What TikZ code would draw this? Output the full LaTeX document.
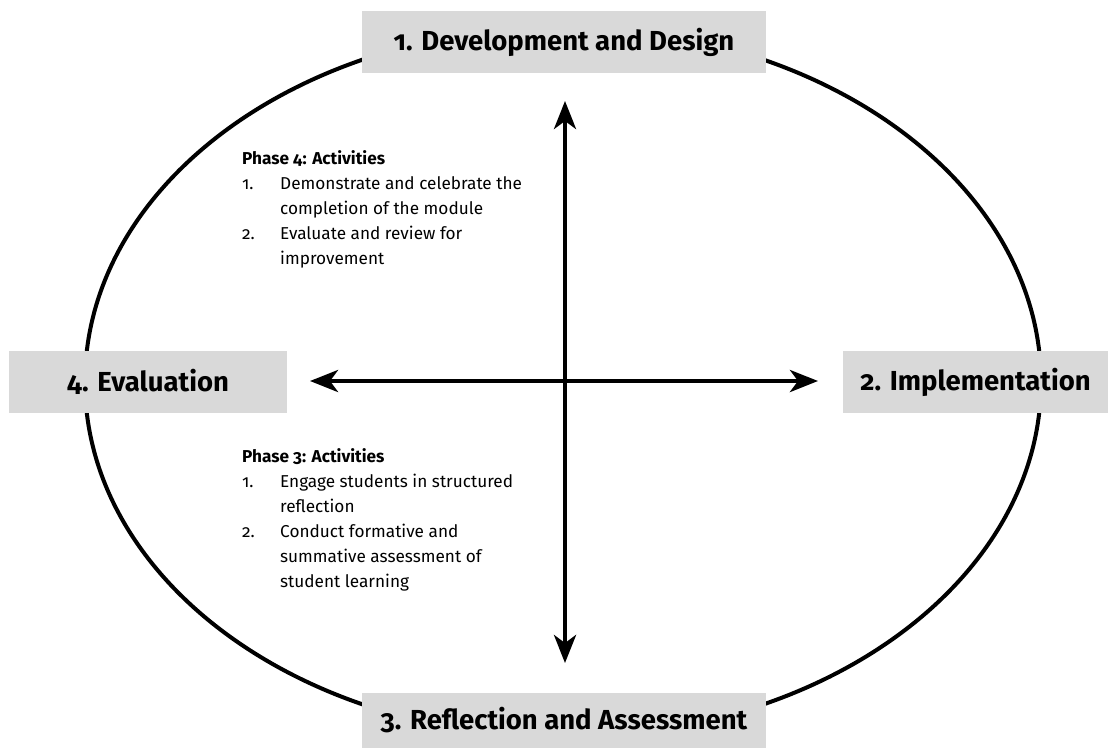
\documentclass[tikz,border=0pt]{standalone}
\usepackage{fontspec}
\setmainfont{Fira Sans}[Numbers=OldStyle]
\usepackage{tikz}
\usetikzlibrary{arrows.meta,positioning}
\definecolor{phasegray}{RGB}{217,217,217}
\tikzstyle{phase} = [rectangle, fill=phasegray, minimum height=62pt, inner sep=0pt, text centered, font=\fontsize{27.5}{32}\selectfont\bfseries]
\tikzstyle{arrow} = [line width=4.5pt, {Stealth[length=28pt,width=22pt,inset=8pt]}-{Stealth[length=28pt,width=22pt,inset=8pt]}]
\tikzstyle{activities} = [anchor=north west, inner sep=0pt, align=left, font=\fontsize{17.2}{25}\selectfont]

\begin{document}
\begin{tikzpicture}[x=1pt, y=-1pt]
\useasboundingbox (0,0) rectangle (1108,748);

% cycle
\draw[line width=4pt] (563,382) ellipse [x radius=478, y radius=355];

% the four phases
\node[phase, minimum width=404pt] (dev) at (564,42) {1. Development and Design};
\node[phase, minimum width=265pt] (impl) at (975.5,382) {2. Implementation};
\node[phase, minimum width=404pt, minimum height=55pt] (refl) at (564,720.5) {3. Reflection and Assessment};
\node[phase, minimum width=278pt] (eval) at (148,382) {4. Evaluation};

% axes
\coordinate (top) at (565,101);
\coordinate (bottom) at (565,663);
\coordinate (west) at (310,381);
\coordinate (east) at (818,381);
\draw[arrow] (top) -- (bottom);
\draw[arrow] (west) -- (east);

% activities
\node[activities] (act4) at (242,147) {%
\begin{tabular}{@{}p{38pt}@{}l@{}}
\multicolumn{2}{@{}l@{}}{\textbf{Phase 4: Activities}}\\
1. & Demonstrate and celebrate the\\
   & completion of the module\\
2. & Evaluate and review for\\
   & improvement
\end{tabular}};
\node[activities] (act3) at (242,445) {%
\begin{tabular}{@{}p{38pt}@{}l@{}}
\multicolumn{2}{@{}l@{}}{\textbf{Phase 3: Activities}}\\
1. & Engage students in structured\\
   & reflection\\
2. & Conduct formative and\\
   & summative assessment of\\
   & student learning
\end{tabular}};
\end{tikzpicture}
\end{document}
